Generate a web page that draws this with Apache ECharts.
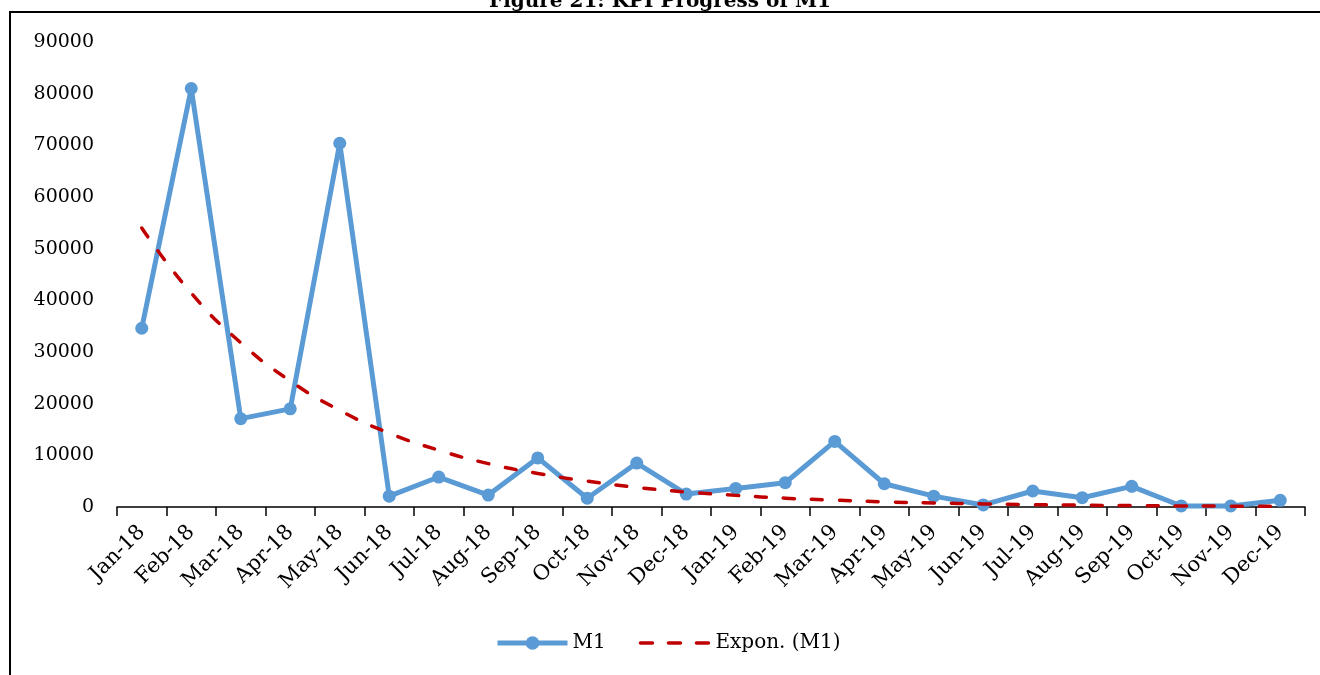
<!DOCTYPE html>
<html><head><meta charset="utf-8">
<script src="https://cdn.jsdelivr.net/npm/echarts@6/dist/echarts.min.js"></script>
<style>html,body{margin:0;padding:0;background:#fff}#c{width:1320px;height:675px}</style>
</head><body><div id="c"></div>
<script>
const categories = ['Jan-18','Feb-18','Mar-18','Apr-18','May-18','Jun-18','Jul-18','Aug-18','Sep-18','Oct-18','Nov-18','Dec-18','Jan-19','Feb-19','Mar-19','Apr-19','May-19','Jun-19','Jul-19','Aug-19','Sep-19','Oct-19','Nov-19','Dec-19'];
const m1 = [34600, 81000, 17100, 19000, 70400, 2100, 5800, 2300, 9500, 1700, 8500, 2500, 3600, 4700, 12700, 4500, 2100, 400, 3100, 1800, 4000, 200, 200, 1300];
const trend = [54000, 41400, 31800, 24400, 18700, 14300, 11000, 8400, 6500, 5000, 3800, 2900, 2250, 1700, 1320, 1000, 780, 600, 460, 350, 270, 210, 160, 120];
const yTicks = { min: 0, max: 90000, interval: 10000 };
const FONT = 'DejaVu Serif';
const chart = echarts.init(document.getElementById('c'));
chart.setOption({
  animation: false,
  textStyle: { fontFamily: FONT },
  title: { text: 'Figure 21: KPI Progress of M1', left: 'center', top: -13,
    textStyle: { fontFamily: FONT, fontWeight: 'bold', fontSize: 20, color: '#000' } },
  graphic: [{ type: 'rect', shape: { x: 10, y: 12, width: 1340, height: 700 },
    style: { fill: 'none', stroke: '#000', lineWidth: 2 }, silent: true }],
  grid: { left: 117, right: 15, top: 42, bottom: 168 },
  legend: { left: 490, top: 628, itemWidth: 70, itemHeight: 17, itemGap: 33,
    textStyle: { fontFamily: FONT, fontSize: 20, color: '#000' },
    data: [
      { name: 'M1', lineStyle: { width: 5, color: '#5B9BD5' }, itemStyle: { color: '#5B9BD5' } },
      { name: 'Expon. (M1)', lineStyle: { width: 3.5, color: '#C00000', type: [12, 16], cap: 'round' }, itemStyle: { opacity: 0 } }
    ] },
  xAxis: { type: 'category', data: categories, boundaryGap: true,
    axisLine: { lineStyle: { color: '#000', width: 1.5 } },
    axisTick: { show: true, length: 9, lineStyle: { color: '#000', width: 1.5 } },
    axisLabel: { rotate: 45, fontFamily: FONT, fontSize: 21, color: '#000', margin: 22, interval: 0 } },
  yAxis: { type: 'value', min: yTicks.min, max: yTicks.max, interval: yTicks.interval,
    axisLine: { show: false }, axisTick: { show: false }, splitLine: { show: false },
    axisLabel: { fontFamily: FONT, fontSize: 19, color: '#000', margin: 23, formatter: v => String(v) } },
  series: [
    { name: 'M1', type: 'line', data: m1, symbol: 'circle', symbolSize: 13,
      itemStyle: { color: '#5B9BD5' }, lineStyle: { color: '#5B9BD5', width: 5 }, z: 2 },
    { name: 'Expon. (M1)', type: 'line', data: trend, symbol: 'none', smooth: true,
      itemStyle: { color: '#C00000' }, lineStyle: { color: '#C00000', width: 3.5, type: [11, 17], cap: 'round' }, z: 3 }
  ]
});
</script></body></html>
